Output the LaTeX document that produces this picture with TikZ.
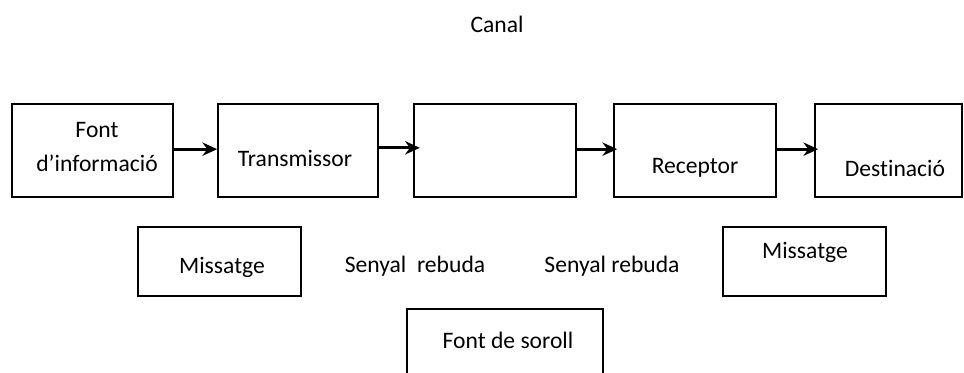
\documentclass[tikz,border=0pt]{standalone}
\usepackage{fontspec}
\setmainfont{Carlito}[Ligatures=NoCommon]
\usetikzlibrary{arrows.meta}

\tikzset{
  bloc/.style={draw, line width=1.3pt, inner sep=0pt, minimum height=69.75pt},
  bloc petit/.style={draw, line width=1.3pt, inner sep=0pt, minimum height=51.75pt},
  fletxa/.style={line width=2.4pt, -{Stealth[length=11pt,width=10pt]}},
  txt/.style={inner sep=0pt, font=\fontsize{17.7}{25.5}\selectfont}
}

\begin{document}
\begin{tikzpicture}[x=0.75pt,y=0.75pt,yscale=-1,xscale=1]
\useasboundingbox (0,0) rectangle (964,372);
\clip (0,0) rectangle (964,372);

%Shape: Rectangle [fila de dalt]
\node [bloc, minimum width=120.75pt] (font) at (92.5,150.5) {};
\node [bloc, minimum width=120pt] (trans) at (298,150.5) {};
\node [bloc, minimum width=121.5pt] (canal) at (495,150.5) {};
\node [bloc, minimum width=121.5pt] (recep) at (695,150.5) {};
\node [bloc, minimum width=110.25pt] (dest) at (888.5,150.5) {};

%Shape: Rectangle [fila de baix]
\node [bloc petit, minimum width=122.25pt] (miss1) at (219.5,261.5) {};
\node [bloc petit, minimum width=122.25pt] (miss2) at (804.5,261.5) {};
\node [bloc, minimum width=147pt, minimum height=61.5pt] (soroll) at (505,350) {};

%Straight Lines
\draw [fletxa] ([yshift=-1pt]font.east) -- ([yshift=-1pt]trans.west);
\draw [fletxa] ([yshift=-2pt]trans.east) -- ([xshift=5pt,yshift=-2pt]canal.west);
\draw [fletxa] ([yshift=-1pt]canal.east) -- ([xshift=3pt,yshift=-1pt]recep.west);
\draw [fletxa] ([yshift=-1pt]recep.east) -- ([xshift=3pt,yshift=-1pt]dest.west);

% Text Node
\node [txt] (tcanal) at (497,24) {Canal};
% Text Node
\node [txt, align=center] (tfont) at (97,147) {Font\\d’informació};
% Text Node
\node [txt] (ttrans) at (295,158) {Transmissor};
% Text Node
\node [txt] (trecep) at (695,168) {Receptor};
% Text Node
\node [txt] (tdest) at (895,168) {Destinació};
% Text Node
\node [txt] (tmiss1) at (222,267) {Missatge};
% Text Node
\node [txt] (tsenyal1) at (415,266) {Senyal\ \ rebuda};
% Text Node
\node [txt] (tsenyal2) at (612,266) {Senyal rebuda};
% Text Node
\node [txt] (tmiss2) at (805,252) {Missatge};
% Text Node
\node [txt] (tsoroll) at (508,340) {Font de soroll};

\end{tikzpicture}
\end{document}
